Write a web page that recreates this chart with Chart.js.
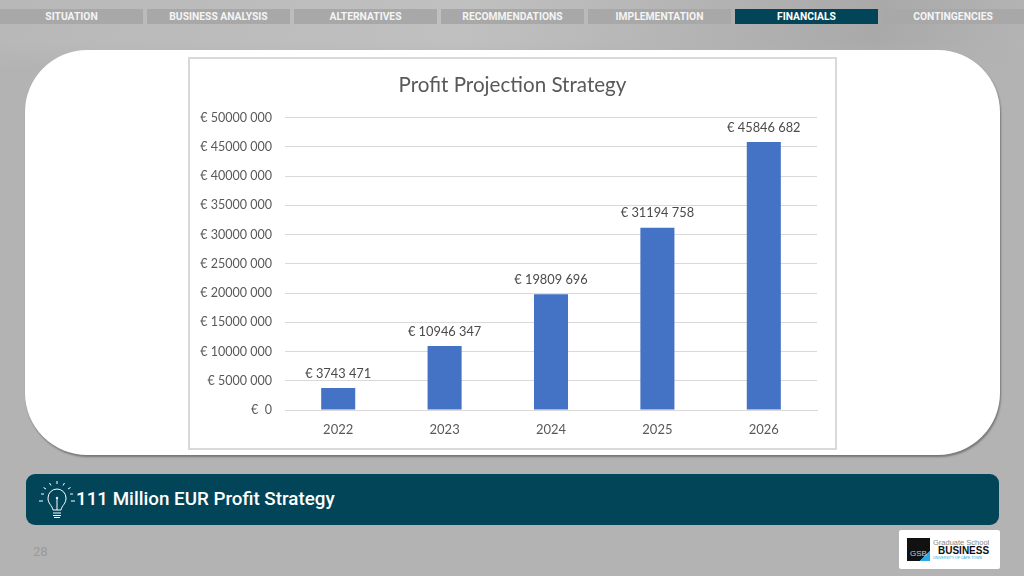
<!DOCTYPE html>
<html>
<head>
<meta charset="utf-8">
<title>Profit Projection Strategy</title>
<script src="https://cdn.jsdelivr.net/npm/chart.js@4/dist/chart.umd.min.js"></script>
<style>
  html, body { margin: 0; padding: 0; }
  body {
    width: 1024px; height: 576px; position: relative; overflow: hidden;
    background: #b3b3b3;
    font-family: Roboto, sans-serif;
  }
  .top { position: absolute; left: 0; top: 0; width: 1024px; height: 70px;
    background: linear-gradient(100deg, #b8b8b8 0, #c0c0c0 45%, #b8b8b8 60%, #a9a9a9 85%, #b4b4b4 100%);
    -webkit-mask-image: linear-gradient(180deg, #000 60%, transparent 100%); }
  .tab {
    position: absolute; top: 9px; height: 15px; line-height: 15px;
    background: #a8a8a8; color: #f4f4f4; font-size: 10.3px; font-weight: 700;
    text-align: center;
  }
  .tab.on { background: #024559; color: #fff; }
  .panel {
    position: absolute; left: 25px; top: 50px; width: 975px; height: 405px;
    background: #fff; border-radius: 62px; box-shadow: 1px 2px 2px #777;
  }
  .chartBox {
    position: absolute; left: 188px; top: 57px; width: 645px; height: 389px;
    background: #fff; border: 2px solid #d9d9d9;
  }
  canvas { display: block; }
  .banner {
    position: absolute; left: 26px; top: 474px; width: 973px; height: 51px;
    background: #024559; border-radius: 9px;
  }
  .banner span {
    position: absolute; left: 50px; top: 0; line-height: 51px;
    color: #fff; font-size: 18.8px; font-weight: 500;
  }
  .banner svg { position: absolute; left: 12px; top: 7px; }
  .pageNo { position: absolute; left: 33px; top: 544px; font-size: 13px; color: #9a9a9a; }
  .logo {
    position: absolute; left: 899px; top: 530px; width: 101px; height: 39px;
    background: #fff; border-radius: 2px;
  }
  .logo .mark {
    position: absolute; left: 8px; top: 8px; width: 23px; height: 23px;
    background: linear-gradient(135deg, #111 78%, #29a9e0 78%);
    color: #ccc; font: 8px "Liberation Sans"; line-height: 32px; text-align: center;
  }
  .logo div.l1 { position: absolute; left: 34px; top: 8px; font: 7.5px "Liberation Sans"; color: #888; white-space: nowrap; }
  .logo div.l2 { position: absolute; left: 39px; top: 15px; font: 700 10px "Liberation Sans"; color: #111; white-space: nowrap; }
  .logo div.l3 { position: absolute; left: 34px; top: 26px; font: 3.5px "Liberation Sans"; color: #29a9e0; white-space: nowrap; }
</style>
</head>
<body>
<div class="top"></div>
<div id="tabs"></div>
<div class="panel"></div>
<div class="chartBox"><canvas id="profitChart" width="645" height="389"></canvas></div>
<div class="banner">
  <svg width="38" height="37" viewBox="0 0 38 37" fill="none" stroke="#fff" stroke-width="1">
    <path d="M15 29 C14 24 10 23 10 17 A9 9 0 0 1 28 17 C28 23 24 24 23 29 Z"/>
    <path d="M15 32 H23 M15 34.500 H23 M16 36.500 H22 M19 29 V17"/>
    <circle cx="19" cy="17" r="0.8" fill="#fff"/>
    <path d="M19 0 V3 M11.500 2 L13 4.500 M26.500 2 L25 4.500 M5.500 6.500 L8 8 M32.500 6.500 L30 8 M3 13 H6 M32 13 H35 M1 20 H5 M33 20 H37"/>
  </svg>
  <span>111 Million EUR Profit Strategy</span>
</div>
<div class="pageNo">28</div>
<div class="logo">
  <div class="mark">GSB</div>
  <div class="l1">Graduate School</div>
  <div class="l2">BUSINESS</div>
  <div class="l3">UNIVERSITY OF CAPE TOWN</div>
</div>
<script>
const years = ['2022', '2023', '2024', '2025', '2026'];
const profit = [3743471, 10946347, 19809696, 31194758, 45846682];
const profitLabels = ['€ 3743 471', '€ 10946 347', '€ 19809 696', '€ 31194 758', '€ 45846 682'];
const yTickLabels = ['€  0', '€ 5000 000', '€ 10000 000', '€ 15000 000', '€ 20000 000', '€ 25000 000',
  '€ 30000 000', '€ 35000 000', '€ 40000 000', '€ 45000 000', '€ 50000 000'];
const tabNames = ['SITUATION', 'BUSINESS ANALYSIS', 'ALTERNATIVES', 'RECOMMENDATIONS', 'IMPLEMENTATION', 'FINANCIALS', 'CONTINGENCIES'];
const tabLefts = [0, 147, 294, 441, 588, 735, 882];

tabNames.forEach((name, i) => {
  const d = document.createElement('div');
  d.className = 'tab' + (name === 'FINANCIALS' ? ' on' : '');
  d.textContent = name;
  d.style.left = tabLefts[i] + 'px';
  d.style.width = (i === 6 ? 142 : 143) + 'px';
  document.getElementById('tabs').appendChild(d);
});

const barLabels = {
  id: 'barLabels',
  afterDatasetsDraw(chart) {
    const ctx = chart.ctx;
    const bars = chart.getDatasetMeta(0).data;
    ctx.save();
    ctx.font = '12.8px Lato';
    ctx.fillStyle = '#4a4a4a';
    ctx.textAlign = 'center';
    ctx.textBaseline = 'bottom';
    bars.forEach((bar, i) => ctx.fillText(profitLabels[i], bar.x, bar.y - 8));
    ctx.restore();
  }
};

new Chart(document.getElementById('profitChart'), {
  type: 'bar',
  data: {
    labels: years,
    datasets: [{
      data: profit,
      backgroundColor: '#4472c4',
      categoryPercentage: 1,
      barPercentage: 0.32
    }]
  },
  plugins: [barLabels],
  options: {
    responsive: false,
    animation: false,
    plugins: {
      legend: { display: false },
      tooltip: { enabled: false },
      title: {
        display: true,
        text: 'Profit Projection Strategy',
        color: '#595959',
        font: { family: 'Lato', size: 20.6, weight: 'normal' },
        padding: { top: 14, bottom: 20 }
      }
    },
    scales: {
      x: {
        grid: { display: false },
        border: { color: '#d9d9d9', width: 1 },
        afterFit(s) { s.height = 38; },
        ticks: { color: '#595959', font: { family: 'Lato', size: 13 }, padding: 4, maxRotation: 0 }
      },
      y: {
        min: 0,
        max: 50000000,
        afterFit(s) { s.width = 95; },
        border: { display: false },
        grid: { color: '#d9d9d9', lineWidth: 1, drawTicks: false },
        ticks: {
          stepSize: 5000000,
          color: '#595959',
          font: { family: 'Lato', size: 12.5 },
          padding: 13,
          callback: (v, i) => yTickLabels[i]
        }
      },
      // empty right axis, keeps the plot clear of the right edge with the title still centred
      rightGap: {
        position: 'right',
        afterFit(s) { s.width = 18; },
        border: { display: false },
        grid: { display: false },
        ticks: { display: false }
      }
    }
  }
});
</script>
</body>
</html>
